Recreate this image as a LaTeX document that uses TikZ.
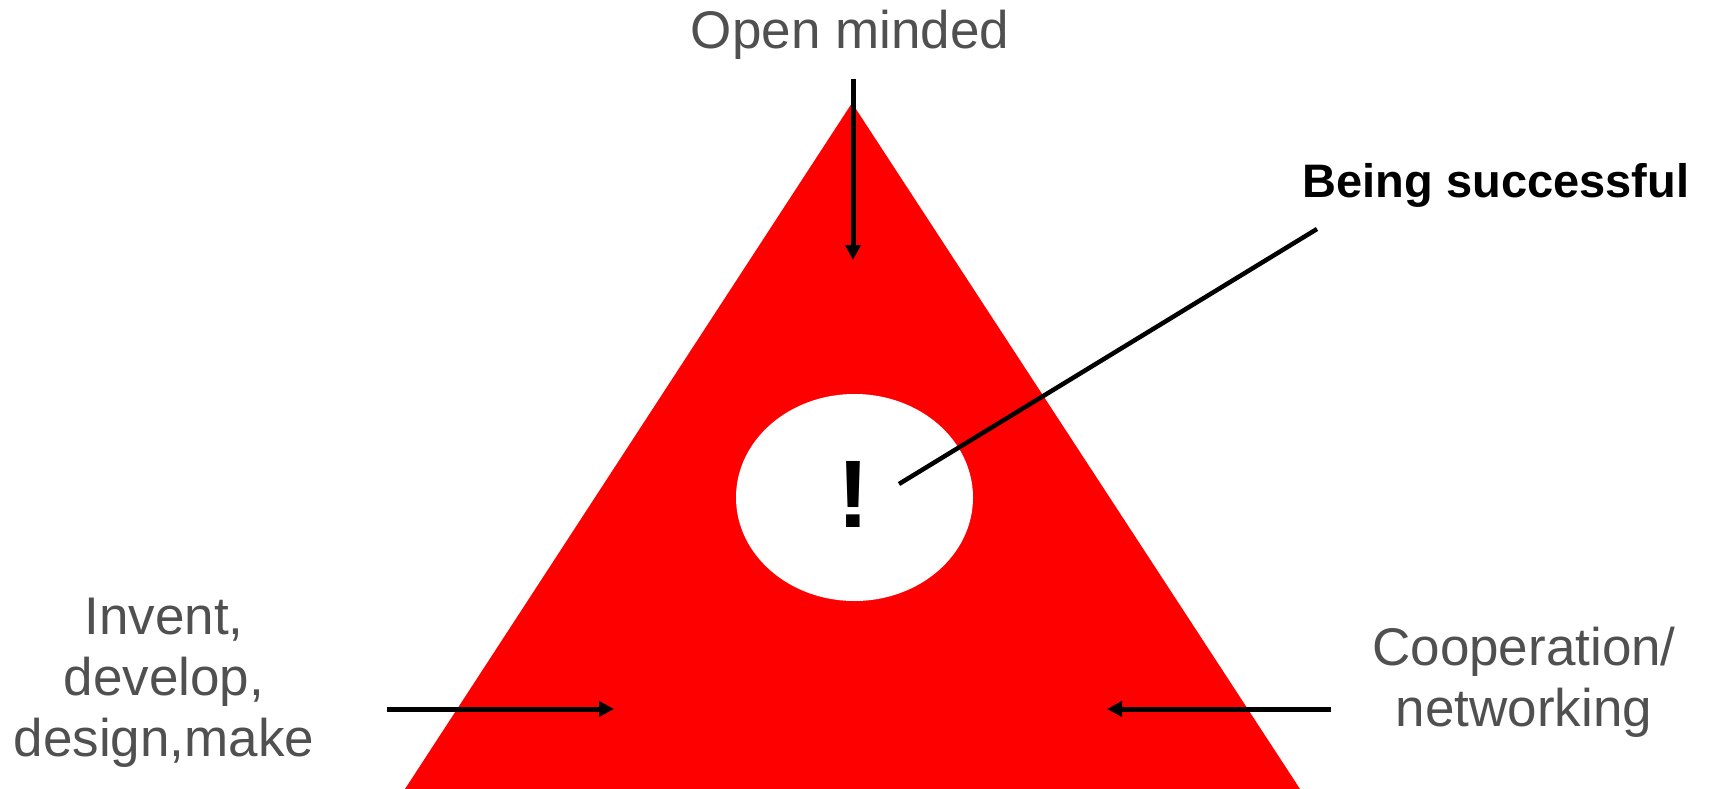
\documentclass[tikz,border=0pt]{standalone}
\usepackage{fontspec}
\setmainfont{Liberation Sans}
\usetikzlibrary{arrows.meta,shapes.geometric}
\definecolor{tri}{HTML}{FF0000}
\definecolor{txt}{HTML}{505050}
\tikzset{
  lbl/.style={text=txt,inner sep=0pt,font=\fontsize{53}{61}\selectfont,align=center},
  arr/.style={line width=5pt,-{Triangle[length=15pt,width=15pt]}},
}
\begin{document}
\begin{tikzpicture}[x=1pt,y=-1pt]
\useasboundingbox (0,0) rectangle (1711,789);
\fill[tri] (852,103) -- (1300,789) -- (405,789) -- cycle;
\node[ellipse,fill=white,minimum width=237pt,minimum height=207pt,inner sep=0pt] (ell) at (854.5,497.5) {};
\node[inner sep=0pt,font=\fontsize{96}{96}\selectfont\bfseries,anchor=base] (excl) at (853,527) {!};
\node[lbl,anchor=base] (open) at (850,49) {Open minded};
\node[inner sep=0pt,font=\fontsize{47}{54}\selectfont\bfseries,anchor=base] (succ) at (1496,197) {Being successful};
\node[lbl,anchor=base] (inv) at (164,756) {Invent,\\develop,\\design,make};
\node[lbl,anchor=base] (coop) at (1524,726) {Cooperation/\\networking};
\coordinate (a1s) at (853,79);
\coordinate (a1e) at (853,260);
\coordinate (a2s) at (387,709);
\coordinate (a2e) at (614,709);
\coordinate (a3s) at (1331,709);
\coordinate (a3e) at (1107,709);
\coordinate (ls) at (1317,229);
\coordinate (le) at (899,484);
\draw[arr] (a1s) -- (a1e);
\draw[arr] (a2s) -- (a2e);
\draw[arr] (a3s) -- (a3e);
\draw[line width=4.5pt] (ls) -- (le);
\end{tikzpicture}
\end{document}
